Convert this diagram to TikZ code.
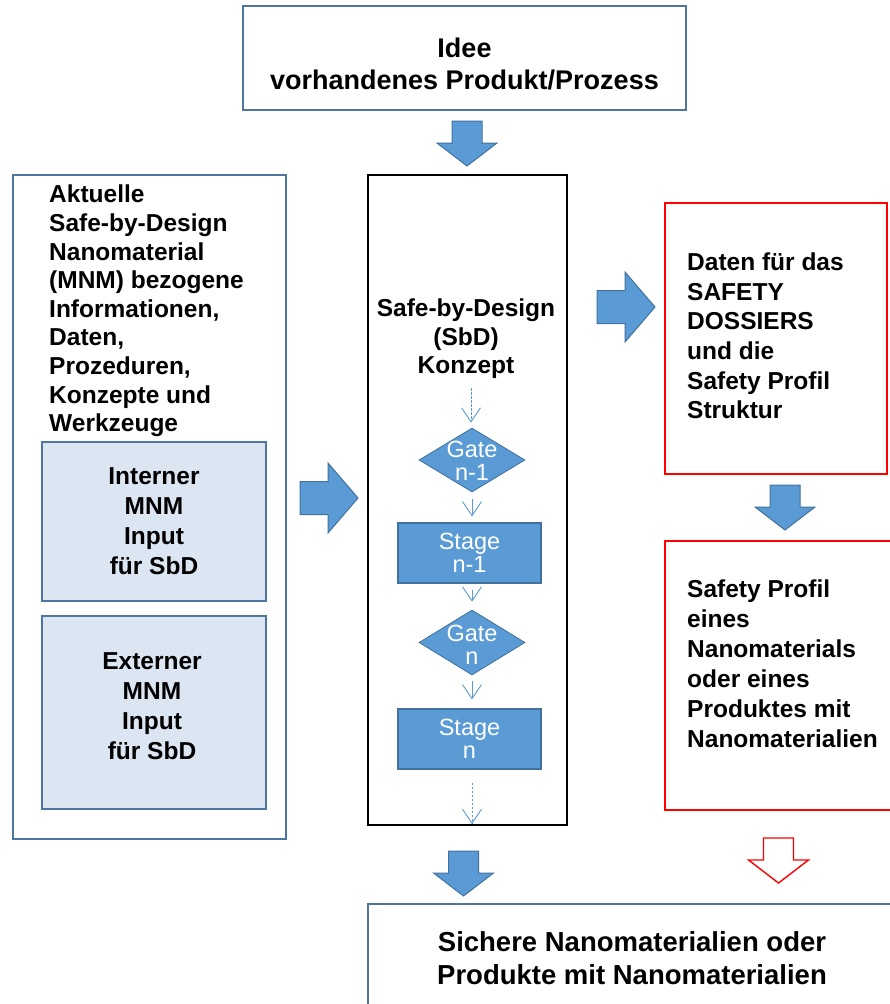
\documentclass[tikz,border=0pt]{standalone}
\usepackage{fontspec}
\setmainfont{Liberation Sans}
\usetikzlibrary{arrows.meta,shapes.geometric}

\definecolor{boxblue}{HTML}{4F75A3}
\definecolor{accent}{HTML}{5B9BD5}
\definecolor{accentdark}{HTML}{41719C}
\definecolor{paleblue}{HTML}{DCE6F2}
\definecolor{alarm}{HTML}{FF0000}

\newcommand\bodyfont{\fontsize{24.5}{28.6}\selectfont\bfseries}
\newcommand\inputfont{\fontsize{24.5}{30}\selectfont\bfseries}
\newcommand\rightfont{\fontsize{24.5}{29.6}\selectfont\bfseries}
\newcommand\titlefont{\fontsize{27}{32}\selectfont\bfseries}
\newcommand\shapefont{\fontsize{23.5}{22.5}\selectfont}

\tikzset{
  frame/.style={draw=boxblue, line width=2pt, inner sep=0pt},
  redframe/.style={draw=alarm, line width=2pt, inner sep=0pt},
  inputbox/.style={draw=boxblue, fill=paleblue, line width=2pt, inner sep=0pt,
    align=center, font=\inputfont},
  gate/.style={diamond, fill=accent, draw=accentdark, line width=0.8pt,
    inner sep=0pt, minimum width=106, minimum height=64},
  stagebox/.style={rectangle, fill=accent, draw=accentdark, line width=1.2pt,
    inner sep=0pt, minimum width=143, minimum height=60,
    text=white, align=center, font=\shapefont},
  shapetext/.style={text=white, align=center, font=\shapefont, inner sep=0pt},
  flowarrow/.style={draw=accent, line width=0.9pt,
    -{Straight Barb[length=14pt,width=19pt,line width=0.9pt]}},
  dasharrow/.style={flowarrow, dash pattern=on 2.5pt off 1.5pt},
  blockfill/.style={fill=accent, draw=accentdark, line width=1pt},
  hollowblock/.style={fill=white, draw=alarm, line width=1.4pt},
  pics/downblock/.style={code={
    \path[pic actions] (-15,-45) -- (15,-45) -- (15,-23) -- (30,-23)
      -- (0,0) -- (-30,-23) -- (-15,-23) -- cycle;}},
  pics/rightblock/.style={code={
    \path[pic actions] (-58,-16.5) -- (-30,-16.5) -- (-30,-35) -- (0,0)
      -- (-30,35) -- (-30,16.5) -- (-58,16.5) -- cycle;}},
}

\begin{document}
\begin{tikzpicture}[x=1pt,y=-1pt]
\useasboundingbox (0,0) rectangle (890,1004);
\clip (0,0) rectangle (890,1004);
\fill[white] (0,0) rectangle (890,1004);

% starting point
\node[frame, minimum width=443, minimum height=104] (idea) at (464.5,58) {};
\node[font=\titlefont, align=center] at (464.5,64)
  {Idee\\vorhandenes Produkt/Prozess};
\pic[blockfill] at (467,166) {downblock};

% knowledge base on the left
\node[frame, minimum width=273, minimum height=664] (base) at (149.5,507) {};
\node[font=\bodyfont, align=left, anchor=west, inner sep=0pt] (basetext) at (49,311)
  {Aktuelle\\Safe-by-Design\\Nanomaterial\\(MNM) bezogene\\Informationen,\\Daten,\\Prozeduren,\\Konzepte und\\Werkzeuge};
\node[inputbox, minimum width=224, minimum height=159] (intern) at (154,521.5)
  {Interner\\MNM\\Input\\f\"ur SbD};
\node[inputbox, minimum width=224, minimum height=193] (extern) at (154,712.5) {};
\node[font=\inputfont, align=center] at (152,706) {Externer\\MNM\\Input\\f\"ur SbD};
\pic[blockfill] at (358,498) {rightblock};

% stage-gate concept
\node[draw=black, line width=2pt, minimum width=199, minimum height=650, inner sep=0pt]
  (sbd) at (467.5,500) {};
\node[font=\bodyfont, align=center] (sbdtext) at (466,339)
  {Safe-by-Design\\(SbD)\\Konzept};
\coordinate (flowstart) at (471,388);
\node[gate] (g1) at (472,460) {};
\node[shapetext] at (472,461) {Gate\\n-1};
\node[stagebox] (s1) at (469.5,553) {Stage\\n-1};
\node[gate, minimum height=65] (g2) at (472,642.5) {};
\node[shapetext] at (472,645) {Gate\\n};
\node[stagebox] (s2) at (469.5,739) {Stage\\n};

\draw[dasharrow, shorten >=5pt] (flowstart) -- (flowstart|-g1.north);
\draw[flowarrow, shorten <=7pt, shorten >=6pt] (g1.south) -- (g1.south|-s1.north);
\draw[flowarrow, shorten <=6pt, shorten >=8pt] (g1.south|-s1.south) -- (g2.north);
\draw[flowarrow, shorten <=6pt, shorten >=9pt] (g2.south) -- (g2.south|-s2.north);
\draw[dasharrow, shorten <=13pt, shorten >=2pt] (g2.south|-s2.south) -- (g2.south|-sbd.south);

\pic[blockfill] at (655,307) {rightblock};

% safety dossier
\node[redframe, minimum width=222, minimum height=271] (dossier) at (776,338.5) {};
\node[font=\rightfont, align=left, anchor=west, inner sep=0pt] at (687,336)
  {Daten f\"ur das\\SAFETY\\DOSSIERS\\und die\\Safety Profil\\Struktur};
\pic[blockfill] at (785,530) {downblock};

% safety profile
\node[redframe, minimum width=240, minimum height=269] (profile) at (785,675.5) {};
\node[font=\inputfont, align=left, anchor=west, inner sep=0pt] at (687,664)
  {Safety Profil\\eines\\Nanomaterials\\oder eines\\Produktes mit\\Nanomaterialien};
\pic[hollowblock] at (778.5,883) {downblock};

% result
\pic[blockfill] at (463.5,896) {downblock};
\node[frame, minimum width=544, minimum height=112] (result) at (640,960) {};
\node[font=\fontsize{27.5}{33}\selectfont\bfseries, align=center] at (632,958)
  {Sichere Nanomaterialien oder\\Produkte mit Nanomaterialien};
\end{tikzpicture}
\end{document}
